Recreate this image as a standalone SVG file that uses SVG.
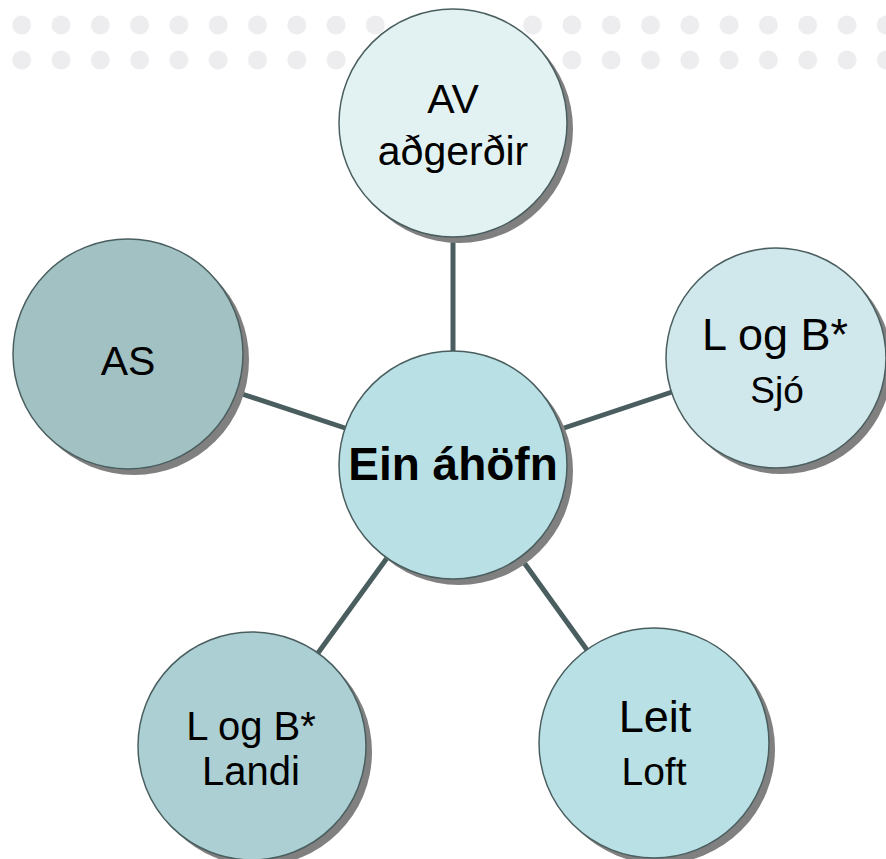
<svg xmlns="http://www.w3.org/2000/svg" width="886" height="859" viewBox="0 0 886 859">
<defs>
<style>
.dot{fill:#ededef}
.sh{fill:#808080}
.nd{stroke:#4a5e5f;stroke-width:1.5}
.ln{stroke:#4a5e5f;stroke-width:5;stroke-linecap:butt}
text{font-family:"Liberation Sans",Arial,sans-serif;fill:#000;text-anchor:middle}
</style>
<pattern id="dots" x="2" y="5" width="39.3" height="35" patternUnits="userSpaceOnUse">
<circle cx="19.7" cy="20" r="9.5" class="dot"/>
</pattern>
</defs>
<rect width="886" height="859" fill="#fff"/>
<rect x="0" y="0" width="886" height="75" fill="url(#dots)"/>
<g id="connectors">
<line class="ln" x1="453" y1="237" x2="453" y2="352"/>
<line class="ln" x1="345" y1="428" x2="239" y2="393"/>
<line class="ln" x1="561" y1="429" x2="672" y2="392"/>
<line class="ln" x1="387" y1="558" x2="318" y2="653"/>
<line class="ln" x1="520" y1="557" x2="587" y2="650"/>
</g>
<g id="node-av">
<circle class="sh" cx="459" cy="129" r="114"/>
<circle class="nd" cx="453" cy="123" r="114" fill="#e2f2f3"/>
<text x="453" y="113" font-size="41">AV</text>
<text x="453" y="165" font-size="41">aðgerðir</text>
</g>
<g id="node-as">
<circle class="sh" cx="134" cy="360" r="115"/>
<circle class="nd" cx="128" cy="354" r="115" fill="#a1c1c3"/>
<text x="128" y="375" font-size="41">AS</text>
</g>
<g id="node-sjo">
<circle class="sh" cx="782" cy="364" r="110"/>
<circle class="nd" cx="776" cy="358" r="110" fill="#d0e8eb"/>
<text x="775" y="350" font-size="45">L og B*</text>
<text x="777" y="403" font-size="37">Sjó</text>
</g>
<g id="node-center">
<circle class="sh" cx="459" cy="471" r="114"/>
<circle class="nd" cx="453" cy="465" r="114" fill="#b9e0e4"/>
<text x="453" y="480" font-size="46" font-weight="bold">Ein áhöfn</text>
</g>
<g id="node-landi">
<circle class="sh" cx="258" cy="752" r="114"/>
<circle class="nd" cx="252" cy="746" r="114" fill="#abcfd2"/>
<text x="251" y="740" font-size="40">L og B*</text>
<text x="251" y="785" font-size="40">Landi</text>
</g>
<g id="node-loft">
<circle class="sh" cx="660" cy="749" r="115"/>
<circle class="nd" cx="654" cy="743" r="115" fill="#b9e0e4"/>
<text x="655" y="732" font-size="45">Leit</text>
<text x="654" y="785" font-size="39">Loft</text>
</g>
</svg>
